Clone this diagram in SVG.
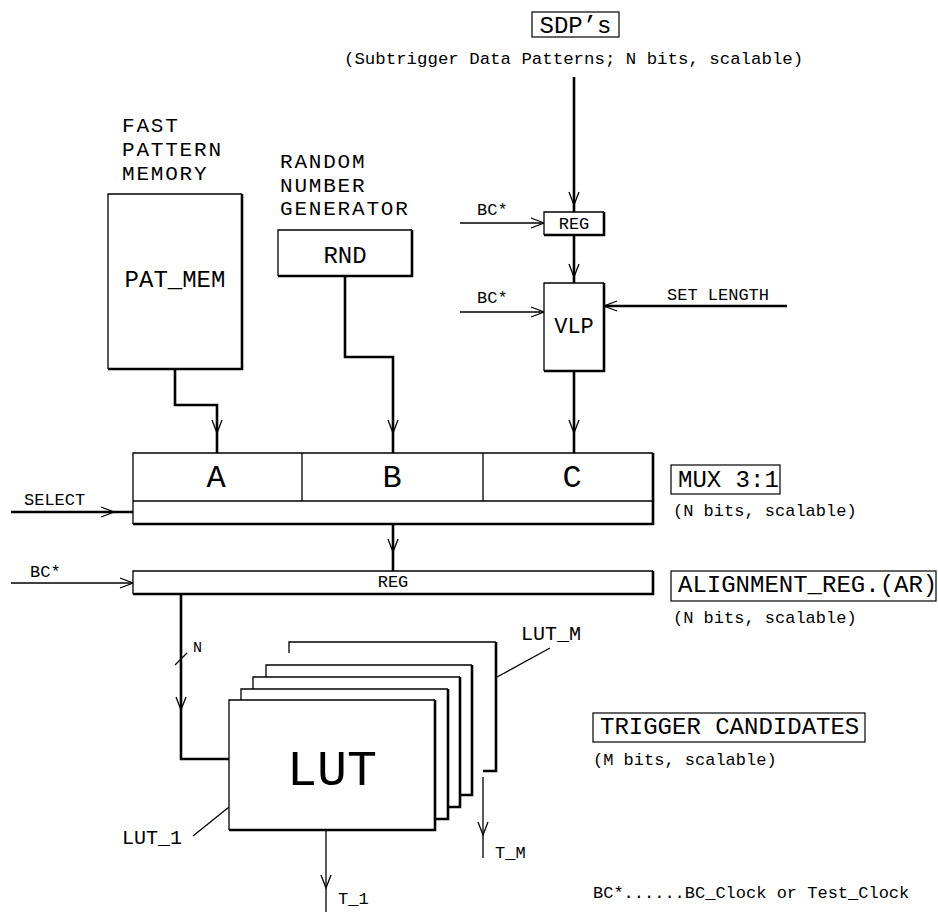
<svg xmlns="http://www.w3.org/2000/svg" width="938" height="912" viewBox="0 0 938 912">
<style>
.t{font-family:"Liberation Mono","Courier New",monospace;fill:#000}
.s{font-size:17px}
.m{font-size:24px}
.st{font-size:21px;letter-spacing:1.8px}
.c{text-anchor:middle}
.thk{stroke:#000;stroke-width:2.6;fill:none}
.thn{stroke:#000;stroke-width:1.3;fill:none}
.bg{fill:#fff;stroke:none}
.lbl{fill:none;stroke:#000;stroke-width:1.2}
.ah{fill:none;stroke:#000;stroke-width:1.3}
</style>
<defs>
<path id="ad" class="ah" d="M-5,-13 L0,0 L5,-13"/>
</defs>
<rect width="938" height="912" fill="#fff"/>

<g id="connectors">
<path class="thk" d="M574,77 V212"/>
<use href="#ad" x="574" y="205"/>
<path class="thn" d="M460,223 H544"/>
<use href="#ad" transform="translate(544,223) rotate(-90)"/>
<path class="thk" d="M574,235 V283"/>
<use href="#ad" x="574" y="277"/>
<path class="thn" d="M460,312 H544"/>
<use href="#ad" transform="translate(544,312) rotate(-90)"/>
<path class="thk" d="M787,306 H604"/>
<use href="#ad" transform="translate(604,306) rotate(90)"/>
<path class="thk" d="M574,371 V453"/>
<use href="#ad" x="574" y="433"/>
<path class="thk" d="M345,276 V357 H393 V453"/>
<use href="#ad" x="393" y="433"/>
<path class="thk" d="M175,369 V405 H217 V453"/>
<use href="#ad" x="217" y="433"/>
<path class="thk" d="M11,512 H133"/>
<use href="#ad" transform="translate(114,512) rotate(-90)"/>
<path class="thk" d="M393,524 V571"/>
<use href="#ad" x="393" y="552"/>
<path class="thn" d="M11,583 H133"/>
<use href="#ad" transform="translate(133,583) rotate(-90)"/>
<path class="thk" d="M181,594 V759 H229"/>
<use href="#ad" x="181" y="710"/>
<path class="thn" d="M175,665 L187,653"/>
<path class="thn" d="M326,830 V912"/>
<use href="#ad" x="326" y="888"/>
<path class="thn" d="M483,777 V858"/>
<use href="#ad" x="483" y="835"/>
<path class="thn" d="M193,836 L229,807"/>
<path class="thn" d="M497,677 L550,648"/>
</g>

<g id="sdp-label">
<rect class="lbl" x="532" y="12" width="87" height="25"/>
<text class="t m c" x="575.5" y="33">SDP’s</text>
<text class="t" x="344" y="64" style="font-size:17.4px">(Subtrigger Data Patterns; N bits, scalable)</text>
</g>

<g id="pat-mem">
<text class="t st" x="122" y="132">FAST</text>
<text class="t st" x="122" y="156">PATTERN</text>
<text class="t st" x="122" y="180">MEMORY</text>
<rect class="bg" x="108" y="194" width="134" height="175"/>
<path class="thn" d="M108,369 V194 H242"/>
<path class="thk" d="M242,194 V369 H108"/>
<text class="t m c" x="175" y="287">PAT_MEM</text>
</g>

<g id="rnd">
<text class="t st" x="280" y="168">RANDOM</text>
<text class="t st" x="280" y="192">NUMBER</text>
<text class="t st" x="280" y="215">GENERATOR</text>
<rect class="bg" x="278" y="230" width="134" height="46"/>
<path class="thn" d="M278,276 V230 H412"/>
<path class="thk" d="M412,230 V276 H278"/>
<text class="t m c" x="345" y="263">RND</text>
</g>

<g id="reg">
<text class="t s" x="477" y="215">BC*</text>
<rect class="bg" x="544" y="212" width="60" height="23"/>
<path class="thn" d="M544,235 V212 H604"/>
<path class="thk" d="M604,212 V235 H544"/>
<text class="t s c" x="574" y="229">REG</text>
</g>

<g id="vlp">
<text class="t s" x="477" y="303">BC*</text>
<text class="t s" x="667" y="300">SET LENGTH</text>
<rect class="bg" x="544" y="283" width="60" height="88"/>
<path class="thn" d="M544,371 V283 H604"/>
<path class="thk" d="M604,283 V371 H544"/>
<text class="t c" x="574" y="333" style="font-size:22px">VLP</text>
</g>

<g id="mux">
<text class="t s" x="24" y="505">SELECT</text>
<rect class="bg" x="133" y="453" width="520" height="71"/>
<path class="thn" d="M133,524 V453 H653 M133,501 H653 M302,453 V501 M483,453 V501"/>
<path class="thk" d="M653,453 V524 H133"/>
<text class="t c" x="216" y="487" style="font-size:32px">A</text>
<text class="t c" x="392" y="487" style="font-size:32px">B</text>
<text class="t c" x="572" y="487" style="font-size:32px">C</text>
</g>

<g id="mux-label">
<rect class="lbl" x="671" y="465" width="109" height="29"/>
<text class="t m" x="678" y="487">MUX 3:1</text>
<text class="t s" x="673" y="516">(N bits, scalable)</text>
</g>

<g id="ar">
<text class="t s" x="30" y="577">BC*</text>
<rect class="bg" x="133" y="571" width="520" height="23"/>
<path class="thn" d="M133,594 V571 H653"/>
<path class="thk" d="M653,571 V594 H133"/>
<text class="t s c" x="393" y="587">REG</text>
</g>

<g id="ar-label">
<rect class="lbl" x="671" y="571" width="265" height="30"/>
<text class="t m" x="678" y="592">ALIGNMENT_REG.(AR)</text>
<text class="t s" x="673" y="623">(N bits, scalable)</text>
</g>

<g id="lut-stack">
<text class="t s" x="193" y="652" style="font-size:15px">N</text>
<path class="thn" d="M289,653 V642 H496"/>
<path class="thk" d="M496,642 V771 H483"/>
<rect class="bg" x="266" y="665" width="206" height="130"/>
<path class="thn" d="M266,795 V665 H472"/>
<path class="thk" d="M472,665 V795 H266"/>
<rect class="bg" x="253" y="677" width="207" height="130"/>
<path class="thn" d="M253,807 V677 H460"/>
<path class="thk" d="M460,677 V807 H253"/>
<rect class="bg" x="241" y="689" width="207" height="130"/>
<path class="thn" d="M241,819 V689 H448"/>
<path class="thk" d="M448,689 V819 H241"/>
<rect class="bg" x="229" y="700" width="206" height="130"/>
<path class="thn" d="M229,830 V700 H435"/>
<path class="thk" d="M435,700 V830 H229"/>
<text class="t c" x="332" y="785" style="font-size:50px">LUT</text>
<text class="t" x="182" y="844" text-anchor="end" style="font-size:20px">LUT_1</text>
<text class="t" x="521" y="640" style="font-size:20px">LUT_M</text>
<text class="t s" x="338" y="904">T_1</text>
<text class="t s" x="495" y="858">T_M</text>
</g>

<g id="trigger-label">
<rect class="lbl" x="593" y="713" width="272" height="29"/>
<text class="t m" x="600" y="734">TRIGGER CANDIDATES</text>
<text class="t s" x="593" y="765">(M bits, scalable)</text>
</g>

<g id="legend">
<text class="t s" x="593" y="898">BC*......BC_Clock or Test_Clock</text>
</g>
</svg>
